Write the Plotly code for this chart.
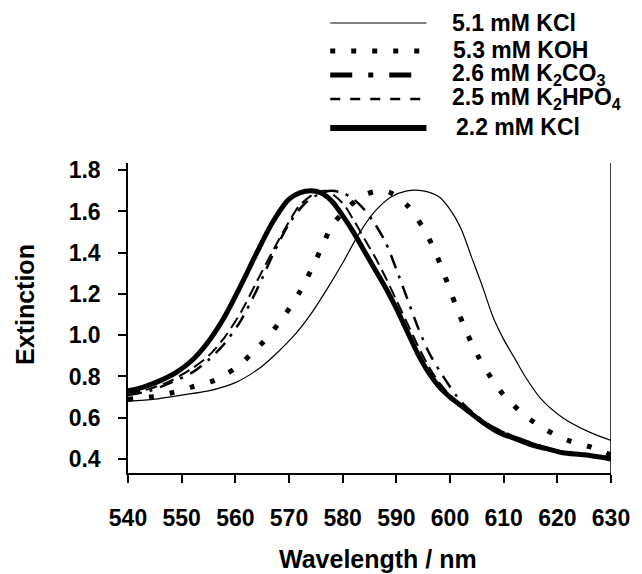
import plotly.graph_objects as go

# ---------------- data ----------------
wl_kcl51 = [540, 545, 550, 555, 560, 565, 568, 571, 574, 577, 580, 583, 586, 589, 592, 595, 598,
            600, 602, 604, 606, 608, 610, 612, 614, 617, 621, 626, 630]
ext_kcl51 = [0.68, 0.69, 0.71, 0.73, 0.77, 0.85, 0.92, 1.00, 1.10, 1.22, 1.35, 1.49, 1.60, 1.67, 1.70, 1.70,
             1.67, 1.61, 1.52, 1.38, 1.24, 1.09, 0.98, 0.89, 0.80, 0.69, 0.60, 0.53, 0.49]

wl_koh = [540, 544, 548, 552, 556, 560, 563, 566, 569, 572, 574, 576, 578, 581, 584, 587, 589, 592, 595,
          597, 599, 601, 603, 605, 607, 610, 614, 618, 622, 626, 630]
ext_koh = [0.69, 0.70, 0.72, 0.75, 0.78, 0.84, 0.91, 0.99, 1.09, 1.21, 1.31, 1.42, 1.53, 1.62, 1.68, 1.70,
           1.69, 1.63, 1.52, 1.42, 1.29, 1.15, 1.02, 0.91, 0.82, 0.71, 0.61, 0.54, 0.49, 0.46, 0.42]

wl_k2co3 = [540, 544, 548, 552, 555, 558, 561, 564, 567, 570, 573, 576, 578, 580, 582, 584, 586, 588, 590,
            592, 594, 596, 598, 600, 602, 604, 607, 610, 615, 620, 625, 630]
ext_k2co3 = [0.71, 0.73, 0.77, 0.82, 0.88, 0.96, 1.07, 1.22, 1.39, 1.54, 1.64, 1.69, 1.70, 1.69, 1.66, 1.61,
             1.54, 1.45, 1.32, 1.18, 1.04, 0.92, 0.83, 0.75, 0.68, 0.63, 0.57, 0.53, 0.48, 0.44, 0.42, 0.41]

wl_k2hpo4 = [540, 544, 548, 552, 555, 558, 561, 564, 567, 570, 572, 575, 577, 580, 582, 584, 586, 588, 590,
             592, 594, 596, 598, 600, 603, 606, 610, 615, 620, 625, 630]
ext_k2hpo4 = [0.72, 0.74, 0.78, 0.84, 0.90, 0.99, 1.11, 1.26, 1.41, 1.55, 1.63, 1.69, 1.70, 1.64, 1.56, 1.47,
              1.38, 1.28, 1.17, 1.06, 0.95, 0.85, 0.77, 0.71, 0.64, 0.58, 0.53, 0.48, 0.44, 0.42, 0.40]

wl_kcl22 = [540, 543, 546, 549, 552, 555, 558, 561, 564, 567, 570, 572, 574, 576, 578, 580, 582, 584, 586,
            588, 590, 592, 594, 596, 598, 600, 603, 606, 609, 612, 615, 618, 621, 625, 630]
ext_kcl22 = [0.73, 0.75, 0.78, 0.82, 0.88, 0.97, 1.09, 1.24, 1.40, 1.55, 1.66, 1.69, 1.70, 1.69, 1.65, 1.58,
             1.50, 1.41, 1.32, 1.23, 1.13, 1.02, 0.91, 0.82, 0.75, 0.70, 0.64, 0.58, 0.53, 0.50, 0.47, 0.45,
             0.43, 0.42, 0.40]

legend_labels = ["5.1 mM KCl", "5.3 mM KOH", "2.6 mM K<sub>2</sub>CO<sub>3</sub>",
                 "2.5 mM K<sub>2</sub>HPO<sub>4</sub>", "2.2 mM KCl"]
x_ticks = [540, 550, 560, 570, 580, 590, 600, 610, 620, 630]
y_ticks = [0.4, 0.6, 0.8, 1.0, 1.2, 1.4, 1.6, 1.8]

# ---------------- styling ----------------
FONT = "Liberation Sans, Arial, sans-serif"
W, H = 642, 574
L, R, T, B = 128, 620, 163, 473


def px(x):
    return (x - L) / (R - L)


def py(y):
    return (B - y) / (B - T)


plot_styles = [
    dict(color="black", width=1.2),
    dict(color="black", width=5, dash="5px,16px"),
    dict(color="black", width=2.5, dash="14px,8px,3px,8px"),
    dict(color="black", width=2, dash="12px,6px"),
    dict(color="black", width=5),
]
legend_styles = [
    dict(color="black", width=1.2),
    dict(color="black", width=5, dash="5px,16px"),
    dict(color="black", width=5, dash="22px,16px,5px,16px"),
    dict(color="black", width=2.5, dash="10px,10px"),
    dict(color="black", width=6),
]

series = [(wl_kcl51, ext_kcl51), (wl_koh, ext_koh), (wl_k2co3, ext_k2co3),
          (wl_k2hpo4, ext_k2hpo4), (wl_kcl22, ext_kcl22)]

fig = go.Figure()
for (xs, ys), name, st in zip(series, legend_labels, plot_styles):
    fig.add_trace(go.Scatter(x=xs, y=ys, mode="lines", name=name,
                             line=dict(shape="spline", smoothing=0.8, **st),
                             showlegend=False, hoverinfo="skip"))

shapes = [dict(type="line", xref="x", yref="paper", x0=630, x1=630, y0=0, y1=1,
               line=dict(color="black", width=1.5))]
annotations = []

leg_line_y = [23, 51, 75, 99, 128]
leg_text_y = [23, 50, 75, 99, 127]
leg_text_x = [457, 458, 457, 457, 461]
for i, lab in enumerate(legend_labels):
    shapes.append(dict(type="line", xref="paper", yref="paper", x0=px(334), x1=px(432),
                       y0=py(leg_line_y[i]), y1=py(leg_line_y[i]), line=legend_styles[i]))
    annotations.append(dict(xref="paper", yref="paper", x=px(leg_text_x[i]), y=py(leg_text_y[i]),
                            xanchor="left", yanchor="middle", showarrow=False, text=lab,
                            borderpad=0,
                            font=dict(family=FONT, size=23, color="black", weight="bold")))

annotations.append(dict(xref="paper", yref="paper", x=px(383), y=py(559), xanchor="center",
                        yanchor="middle", showarrow=False, text="Wavelength / nm",
                        font=dict(family=FONT, size=25, color="black", weight="bold")))
annotations.append(dict(xref="paper", yref="paper", x=px(23), y=py(304), xanchor="center",
                        yanchor="middle", showarrow=False, text="Extinction", textangle=-90,
                        font=dict(family=FONT, size=25, color="black", weight="bold")))

tickfont = dict(family=FONT, size=23, color="black", weight="bold")
fig.update_layout(
    width=W, height=H,
    margin=dict(l=L, r=W - R, t=T, b=H - B, pad=0),
    paper_bgcolor="white", plot_bgcolor="white",
    xaxis=dict(range=[540, 630], tickvals=x_ticks, ticks="outside", ticklen=8, tickwidth=1.5,
               tickcolor="black", showline=True, linecolor="black", linewidth=1.5, showgrid=False,
               zeroline=False, tickfont=tickfont, ticklabelstandoff=16),
    yaxis=dict(range=[0.332, 1.835], tickvals=y_ticks, tickformat=".1f", ticks="outside", ticklen=8,
               tickwidth=1.5, tickcolor="black", showline=True, linecolor="black", linewidth=1.5,
               showgrid=False, zeroline=False, tickfont=tickfont, ticklabelstandoff=13),
    shapes=shapes, annotations=annotations, showlegend=False,
)

fig.write_html("out.html")
